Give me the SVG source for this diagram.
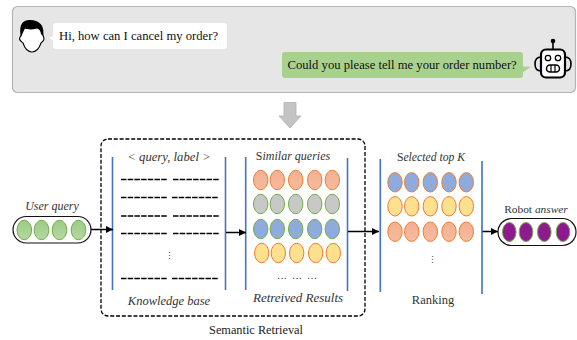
<svg xmlns="http://www.w3.org/2000/svg" width="577" height="340" viewBox="0 0 577 340">
<style>
text{font-family:"Liberation Serif","Times New Roman",serif;fill:#222}
.m{font-size:12px;font-style:italic;text-anchor:middle;fill:#333}
.r{font-style:normal}
.c{font-size:12.650px;fill:#111}
.v{stroke:#4472c4;stroke-width:1.6;fill:none}
.a{stroke:#000;stroke-width:1.5;fill:none;marker-end:url(#ah)}
.d{stroke:#000;stroke-width:1.700;stroke-dasharray:5.500 1.200;fill:none}
.o{fill:url(#go);stroke:#ed7d31;stroke-width:1}
.g{fill:#c8c8c8;stroke:#70ad47;stroke-width:1}
.b{fill:#8faadc;stroke:#ed7d31;stroke-width:1}
.bg{fill:#8faadc;stroke:#70ad47;stroke-width:1}
.y{fill:#ffe08f;stroke:#ed7d31;stroke-width:1}
.gr{fill:url(#gg);stroke:#70ad47;stroke-width:1}
.p{fill:#8e1b8e;stroke:#70ad47;stroke-width:1}
.pill{fill:#fff;stroke:#111;stroke-width:1.2}
.ln{fill:none;stroke:#000;stroke-width:1.6}
.dots{font-size:9px;text-anchor:middle;fill:#444}
</style>
<defs>
<linearGradient id="go" x1="0" y1="0" x2="0" y2="1"><stop offset="0" stop-color="#f4b08e"/><stop offset="1" stop-color="#f6bba0"/></linearGradient>
<linearGradient id="gg" x1="0" y1="0" x2="0" y2="1"><stop offset="0" stop-color="#9ccb86"/><stop offset="1" stop-color="#b5d8a4"/></linearGradient>
<marker id="ah" markerWidth="6" markerHeight="6" refX="5" refY="2.5" orient="auto" markerUnits="strokeWidth"><path d="M0 0L5 2.5L0 5z" fill="#000"/></marker>
</defs>

<g id="chat-panel"><rect x="12.5" y="6.5" width="563" height="86" rx="5" fill="#e6e6e6" stroke="#b4b4b4" stroke-width="1.2"/></g>

<g id="user-icon">
<path d="M21.500 33C22 35 19.500 37 19.500 39C20 41 22 42 23 43C25 49 28 52 32 52C36 52 39 49 41 43C42 42 44 41 44 39C44 37 42.500 35 42.500 33C42 28 38 24 32 24C26 24 22 28 21.500 33z" fill="#fff" stroke="#000" stroke-width="1.100"/>
<path d="M21 37C19.500 30 20 24 24 21.500C29 19 37 20 40 23.500C43 26 44 31 43 36L41 34C40.500 31 39.500 29 37 28.500C32 30 27 29.500 25 28.500C23.500 31 22.500 34 21 37z" fill="#000"/>
</g>
<g id="user-message">
<path d="M56 23H224a3 3 0 0 1 3 3V46a3 3 0 0 1-3 3H56a3 3 0 0 1-3-3V41L49 37.500L53 36.500V26a3 3 0 0 1 3-3z" fill="#fff"/>
<text x="59" y="40" class="c">Hi, how can I cancel my order?</text>
</g>
<g id="robot-message">
<path d="M285 52H520a3 3 0 0 1 3 3V66.500L531 67L523 72V75a3 3 0 0 1-3 3H285a3 3 0 0 1-3-3V55a3 3 0 0 1 3-3z" fill="#a9d18e"/>
<text x="287.500" y="69" class="c">Could you please tell me your order number?</text>
</g>
<g id="robot-icon">
<circle cx="553" cy="41" r="2.300" fill="#000"/>
<path class="ln" d="M553 41V49"/>
<rect x="541" y="49.500" width="24" height="28" rx="5" fill="#fff" stroke="#000" stroke-width="2.200"/>
<path class="ln" d="M541 57C536 57 535 60 535 64C535 68 536 71 541 71M565 57C570 57 571 60 571 64C571 68 570 71 565 71"/>
<circle cx="548" cy="58" r="2.700" fill="#fff" stroke="#000" stroke-width="1.300"/>
<circle cx="558" cy="58" r="2.700" fill="#fff" stroke="#000" stroke-width="1.300"/>
<rect x="546.500" y="65" width="13" height="7" rx="3.500" fill="#fff" stroke="#000" stroke-width="1.500"/>
<path d="M551 65V72M555 65V72" stroke="#000" stroke-width="1.200"/>
</g>
<g id="flow-arrow"><path d="M284 102.500H296V116H301L290 128L279 116H284z" fill="#c4c4c4" stroke="#b0b0b0" stroke-width="0.800"/></g>

<g id="semantic-retrieval">
<rect x="101" y="139" width="264" height="177" rx="7" fill="none" stroke="#000" stroke-width="1.300" stroke-dasharray="4 1.800"/>
<text x="256" y="334" font-size="12.300" text-anchor="middle">Semantic Retrieval</text>
</g>

<g id="user-query">
<text x="52" y="210" class="m" font-size="12">User query</text>
<rect x="13" y="216.500" width="78" height="26.500" rx="13.200" class="pill"/>
<ellipse cx="24.300" cy="230" rx="7.300" ry="9.700" class="gr"/>
<ellipse cx="41.500" cy="230" rx="7.300" ry="9.700" class="gr"/>
<ellipse cx="59.500" cy="230" rx="7.300" ry="9.700" class="gr"/>
<ellipse cx="78.500" cy="230" rx="7.300" ry="9.700" class="gr"/>
</g>

<g id="knowledge-base">
<path class="v" d="M112.500 157V290M225.500 157V290"/>
<text x="169" y="161" class="m" style="font-size:12.700px">&lt; query, label &gt;</text>
<path class="d" d="M121 179.500H168M173 179.500H220M121 197.500H167M172 197.500H219M121 216H168M173 216H220M121 233.500H168M173 233.500H220M121 278.500H167M172 278.500H219"/>
<text x="169" y="259" class="dots">⋮</text>
<text x="169" y="305" class="m" style="font-size:12.500px">Knowledge base</text>
</g>

<g id="retrieved-results">
<path class="v" d="M245.700 157V290M347.500 158V291"/>
<text x="293" y="160" class="m"><tspan class="r">S</tspan>imilar queries</text>
<ellipse cx="260.700" cy="180" rx="7.200" ry="9.700" class="o"/><ellipse cx="277.300" cy="180" rx="7.200" ry="9.700" class="o"/><ellipse cx="295.700" cy="180" rx="7.200" ry="9.700" class="o"/><ellipse cx="314.700" cy="180" rx="7.200" ry="9.700" class="o"/><ellipse cx="332.300" cy="180" rx="7.200" ry="9.700" class="o"/>
<ellipse cx="260.700" cy="204" rx="7.200" ry="9.700" class="g"/><ellipse cx="277.300" cy="204" rx="7.200" ry="9.700" class="g"/><ellipse cx="295.700" cy="204" rx="7.200" ry="9.700" class="g"/><ellipse cx="314.700" cy="204" rx="7.200" ry="9.700" class="g"/><ellipse cx="332.300" cy="204" rx="7.200" ry="9.700" class="g"/>
<ellipse cx="260.700" cy="229" rx="7.200" ry="9.700" class="bg"/><ellipse cx="277.300" cy="229" rx="7.200" ry="9.700" class="bg"/><ellipse cx="295.700" cy="229" rx="7.200" ry="9.700" class="bg"/><ellipse cx="314.700" cy="229" rx="7.200" ry="9.700" class="bg"/><ellipse cx="332.300" cy="229" rx="7.200" ry="9.700" class="bg"/>
<ellipse cx="261.700" cy="253" rx="7.200" ry="9.700" class="y"/><ellipse cx="278.300" cy="253" rx="7.200" ry="9.700" class="y"/><ellipse cx="296.700" cy="253" rx="7.200" ry="9.700" class="y"/><ellipse cx="315.700" cy="253" rx="7.200" ry="9.700" class="y"/><ellipse cx="333.300" cy="253" rx="7.200" ry="9.700" class="y"/>
<text x="297" y="279" font-size="10" text-anchor="middle" xml:space="preserve">…  …  …</text>
<text x="298" y="302" class="m" style="font-size:13px">Retreived Results</text>
</g>

<g id="ranking">
<path class="v" d="M380.300 159V292M482 161V294"/>
<text x="431" y="161" class="m" style="font-size:11.700px"><tspan class="r">S</tspan>elected top K</text>
<ellipse cx="395" cy="182.300" rx="7.200" ry="9.700" class="b"/><ellipse cx="411.700" cy="182.300" rx="7.200" ry="9.700" class="b"/><ellipse cx="430.300" cy="182.300" rx="7.200" ry="9.700" class="b"/><ellipse cx="449" cy="182.300" rx="7.200" ry="9.700" class="b"/><ellipse cx="466.300" cy="182.300" rx="7.200" ry="9.700" class="b"/>
<ellipse cx="395" cy="206.300" rx="7.200" ry="9.700" class="y"/><ellipse cx="411.700" cy="206.300" rx="7.200" ry="9.700" class="y"/><ellipse cx="430.300" cy="206.300" rx="7.200" ry="9.700" class="y"/><ellipse cx="449" cy="206.300" rx="7.200" ry="9.700" class="y"/><ellipse cx="466.300" cy="206.300" rx="7.200" ry="9.700" class="y"/>
<ellipse cx="395" cy="231.700" rx="7.200" ry="9.700" class="o"/><ellipse cx="411.700" cy="231.700" rx="7.200" ry="9.700" class="o"/><ellipse cx="430.300" cy="231.700" rx="7.200" ry="9.700" class="o"/><ellipse cx="449" cy="231.700" rx="7.200" ry="9.700" class="o"/><ellipse cx="466.300" cy="231.700" rx="7.200" ry="9.700" class="o"/>
<text x="432" y="263" class="dots">⋮</text>
<text x="433" y="304" class="m" style="font-size:12.500px"><tspan class="r">Ranking</tspan></text>
</g>

<g id="robot-answer">
<text x="536" y="213" class="m" style="font-size:11.400px"><tspan class="r">Robot</tspan> answer</text>
<rect x="498" y="218.500" width="78" height="27" rx="13.500" class="pill"/>
<ellipse cx="509.300" cy="232" rx="6.800" ry="9.500" class="p"/>
<ellipse cx="526" cy="232" rx="6.800" ry="9.500" class="p"/>
<ellipse cx="544.300" cy="232" rx="6.800" ry="9.500" class="p"/>
<ellipse cx="563" cy="232" rx="6.800" ry="9.500" class="p"/>
</g>

<g id="connectors">
<path class="a" d="M91 229.500H113"/>
<path class="a" d="M226 232.500H246"/>
<path class="a" d="M348 231.500H379"/>
<path class="a" d="M482.500 231.500H498"/>
</g>
</svg>
